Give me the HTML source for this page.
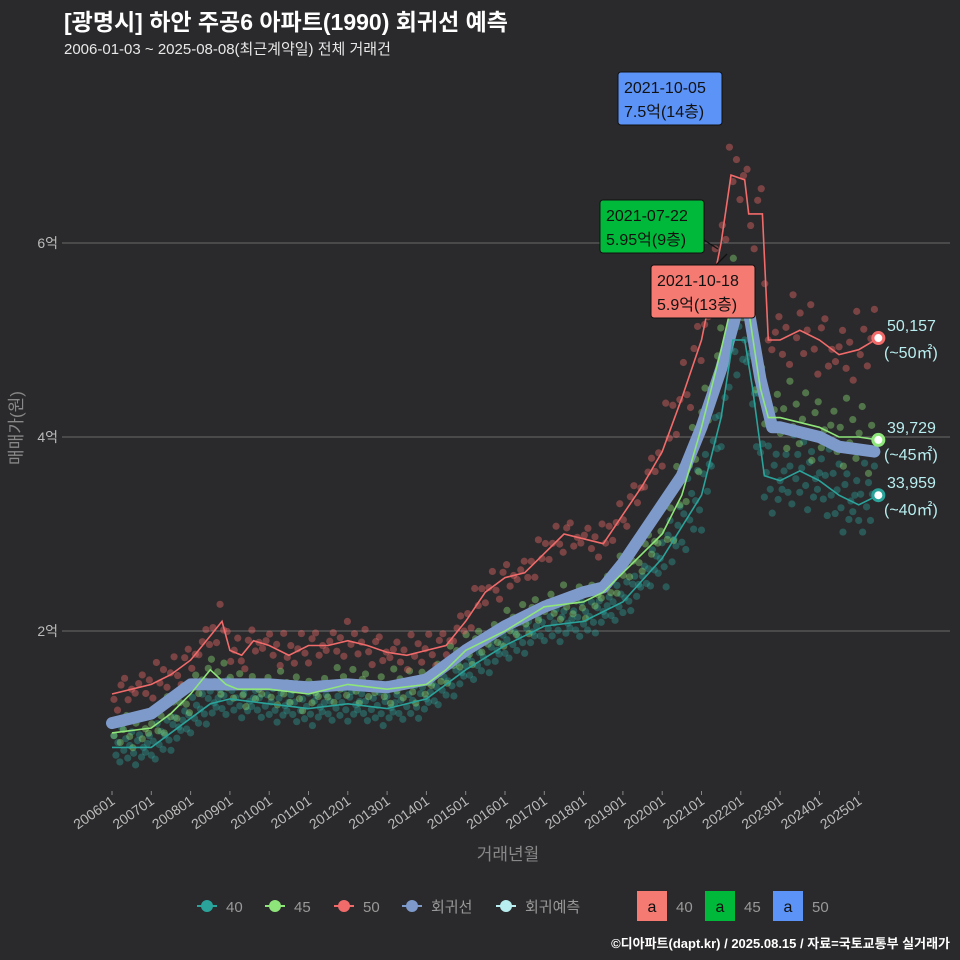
<!DOCTYPE html>
<html><head><meta charset="utf-8">
<style>
html,body{margin:0;background:#2a292b;width:960px;height:960px;overflow:hidden;}
svg{display:block;}
svg text{font-family:"Liberation Sans","Noto Sans CJK KR",sans-serif;}
</style></head>
<body>
<svg id="c" width="960" height="960" xmlns="http://www.w3.org/2000/svg">
<rect width="960" height="960" fill="#2a292b"/>
<text x="64" y="30" font-size="23" font-weight="bold" fill="#ffffff">[광명시] 하안 주공6 아파트(1990) 회귀선 예측</text>
<text x="64" y="54" font-size="15" fill="#e8e8e8">2006-01-03 ~ 2025-08-08(최근계약일) 전체 거래건</text>
<g id="grid"></g>
<g id="scatter"></g>
<g id="lines"></g>
<g id="ann"></g>
<text transform="translate(22,428) rotate(-90)" text-anchor="middle" font-size="17" fill="#888">매매가(원)</text>
<text x="508" y="860" text-anchor="middle" font-size="17" fill="#888">거래년월</text>
<g id="legend"></g>
<text x="950" y="948" text-anchor="end" font-size="13" font-weight="bold" fill="#ffffff">©디아파트(dapt.kr) / 2025.08.15 / 자료=국토교통부 실거래가</text>
</svg>
<script>
const yTicks=[2,4,6];
const yTickLabels=["2억","4억","6억"];
const xTickYears=[2006,2007,2008,2009,2010,2011,2012,2013,2014,2015,2016,2017,2018,2019,2020,2021,2022,2023,2024,2025];
const red50T=[2006,2006.5,2007,2007.5,2008,2008.5,2008.8,2009,2009.3,2009.6,2010,2010.5,2011,2011.5,2012,2012.5,2013,2013.5,2014,2014.5,2015,2015.5,2016,2016.5,2017,2017.5,2018,2018.5,2019,2019.5,2020,2020.5,2021,2021.5,2021.75,2022.1,2022.2,2022.55,2022.7,2023,2023.5,2024,2024.5,2025,2025.5];
const red50V=[1.35,1.4,1.45,1.55,1.7,1.95,2.1,1.8,1.75,1.9,1.85,1.75,1.85,1.85,1.9,1.85,1.78,1.75,1.8,1.85,2.1,2.4,2.55,2.6,2.8,3.0,2.95,2.9,3.2,3.5,3.85,4.4,5.0,6.0,6.7,6.65,6.3,6.3,5.0,5.0,5.1,5.0,4.85,4.9,5.02];
const green45T=[2006,2007,2007.5,2008,2008.5,2008.9,2009.2,2010,2011,2012,2013,2014,2014.5,2015,2016,2017,2018,2018.5,2019,2020,2020.5,2021,2021.5,2021.9,2022.2,2022.5,2022.7,2023,2024,2024.5,2025,2025.5];
const green45V=[0.95,1.0,1.15,1.35,1.6,1.45,1.4,1.4,1.35,1.45,1.4,1.45,1.6,1.8,2.0,2.25,2.3,2.4,2.6,3.0,3.4,4.1,4.9,5.6,5.3,4.5,4.2,4.2,4.1,4.0,4.0,3.97];
const teal40T=[2006,2007,2008,2008.5,2009,2010,2011,2012,2013,2014,2015,2016,2017,2018,2018.5,2019,2020,2021,2021.5,2021.8,2022.1,2022.3,2022.5,2022.6,2023,2023.5,2024,2024.5,2025,2025.5];
const teal40V=[0.8,0.8,1.1,1.25,1.3,1.25,1.2,1.25,1.2,1.3,1.6,1.85,2.05,2.1,2.2,2.3,2.75,3.4,4.2,5.0,5.0,4.5,3.9,3.6,3.55,3.65,3.55,3.4,3.3,3.4];
const regT=[2006,2007,2008,2009,2010,2011,2012,2013,2014,2014.5,2015,2016,2017,2018,2018.5,2019,2020,2020.5,2021,2021.5,2021.9,2022.2,2022.5,2022.8,2023,2024,2024.5,2025.4];
const regV=[1.05,1.15,1.45,1.45,1.45,1.42,1.45,1.42,1.5,1.65,1.8,2.05,2.25,2.4,2.45,2.7,3.3,3.6,4.1,4.7,5.3,5.3,4.6,4.1,4.1,4.0,3.9,3.85];
const jitter=[0.12,-0.08,0.05,-0.15,0.2,-0.03,0.09,-0.11,0.02,0.16,-0.06,-0.18,0.07,0.13,-0.1,0.0,-0.05,0.04];
const endT=2025.5;
const endLabels=[["50,157","(~50㎡)",5.02,"#f26b6b"],["39,729","(~45㎡)",3.97,"#8ee57a"],["33,959","(~40㎡)",3.4,"#2aa39b"]];

const X=t=>112+(t-2006)*39.3, Y=v=>825-v*97;
const NS="http://www.w3.org/2000/svg";
function mk(tag,attrs,parent,txt){const e=document.createElementNS(NS,tag);for(const k in attrs)e.setAttribute(k,attrs[k]);if(txt!==undefined)e.textContent=txt;parent.appendChild(e);return e;}
const grid=document.getElementById('grid');
yTicks.forEach((v,i)=>{
 const l=mk('line',{x1:62,x2:950,y1:Y(v),y2:Y(v),stroke:'#6a6a6a','stroke-width':1},grid);
 
 const t=mk('text',{x:58,y:Y(v)+5,'text-anchor':'end','font-size':14,fill:'#bbb'},grid,yTickLabels[i]);
 
});
xTickYears.forEach(yr=>{
 const x=X(yr);
 mk('line',{x1:x,x2:x,y1:791,y2:795,stroke:'#888'},grid);
 const t=mk('text',{transform:`translate(${x+4},${803}) rotate(-35)`,'text-anchor':'end','font-size':14,fill:'#bbb'},grid,yr+"01");
 
});
function interp(T,V,t){for(let i=0;i<T.length-1;i++){if(t>=T[i]&&t<=T[i+1]){return V[i]+(V[i+1]-V[i])*(t-T[i])/(T[i+1]-T[i]);}}return V[V.length-1];}
const sc=document.getElementById('scatter');
[[teal40T,teal40V,'#2aa39b',0.05],[green45T,green45V,'#8ee57a',0.08],[red50T,red50V,'#f26b6b',0.09]].forEach(([T,V,c,st],si)=>{
 let k=si*5;
 for(let t=2006.05;t<2025.4;t+=st){
  const v=interp(T,V,t)+jitter[k%jitter.length]*(1+(t>2020?1:0));k++;
  const p=mk('circle',{cx:X(t),cy:Y(v),r:3.6,fill:c,'fill-opacity':0.4},sc);
  
 }
});
const lg=document.getElementById('lines');
function path(T,V){return T.map((t,i)=>(i?'L':'M')+X(t).toFixed(1)+','+Y(V[i]).toFixed(1)).join('');}
let p=mk('path',{d:path(regT,regV),stroke:'#7d9acb','stroke-width':12,fill:'none','stroke-linejoin':'round','stroke-linecap':'round'},lg);

[[teal40T,teal40V,'#2aa39b','line-40'],[green45T,green45V,'#8ee57a','line-45'],[red50T,red50V,'#f26b6b','line-50']].forEach(([T,V,c,n])=>{
 const e=mk('path',{d:path(T,V),stroke:c,'stroke-width':1.6,fill:'none'},lg);
 
});
endLabels.forEach(([a,b,v,c])=>{
 const m=mk('circle',{cx:X(endT),cy:Y(v),r:5.5,fill:'#fff',stroke:c,'stroke-width':3},lg);
 
 const t1=mk('text',{x:887,y:Y(v)-7,'font-size':16,fill:'#b8eef0'},lg,a);
 
 const t2=mk('text',{x:884,y:Y(v)+20,'font-size':16,fill:'#b8eef0'},lg,b);
 
});
const an=document.getElementById('ann');
mk('line',{x1:704,y1:240,x2:718,y2:249,stroke:'#111','stroke-width':1.3},an);
mk('line',{x1:716,y1:265,x2:727,y2:254,stroke:'#111','stroke-width':1.3},an);
[[618,72,'#5b93f7','2021-10-05','7.5억(14층)','annotation-max-50'],[600,200,'#00b93a','2021-07-22','5.95억(9층)','annotation-max-45'],[651,265,'#f47a72','2021-10-18','5.9억(13층)','annotation-max-40']].forEach(([x,y,c,a,b,n])=>{
 const g=mk('g',{},an);
 mk('rect',{x:x,y:y,width:104,height:53,rx:3,fill:c,stroke:'#111'},g);
 mk('text',{x:x+6,y:y+21,'font-size':16,fill:'#111'},g,a);
 mk('text',{x:x+6,y:y+45,'font-size':16,fill:'#111'},g,b);
});
const L=document.getElementById('legend');
[[207,'#2aa39b','40'],[275,'#8ee57a','45'],[344,'#f26b6b','50'],[412,'#7d9acb','회귀선'],[506,'#b8eef0','회귀예측']].forEach(([x,c,t])=>{
 const g=mk('g',{},L);
 mk('line',{x1:x-10,x2:x+10,y1:906,y2:906,stroke:c,'stroke-width':2},g);
 mk('circle',{cx:x,cy:906,r:6,fill:c},g);
 mk('text',{x:x+19,y:912,'font-size':15,fill:'#999'},g,t);
});
[[637,'#f47a72','40'],[705,'#00b93a','45'],[773,'#5b93f7','50']].forEach(([x,c,t])=>{
 const g=mk('g',{},L);
 mk('rect',{x:x,y:891,width:30,height:30,fill:c},g);
 mk('text',{x:x+15,y:912,'text-anchor':'middle','font-size':16,fill:'#111'},g,'a');
 mk('text',{x:x+39,y:912,'font-size':15,fill:'#999'},g,t);
});
</script>
</body></html>
